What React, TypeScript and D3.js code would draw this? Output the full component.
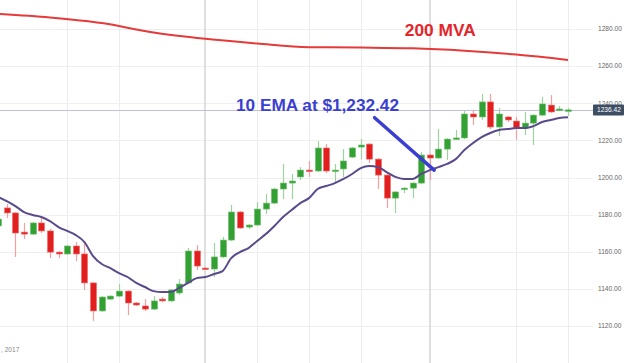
import React, { useRef, useEffect } from "react";
import * as d3 from "d3";

// daily candles (index 0 is clipped at the left edge)
const opens = [1173.9, 1183.6, 1180.9, 1170.6, 1169.5, 1175.5, 1171.2, 1159.8, 1158.8, 1163.1, 1158.8, 1143.2, 1128.1, 1134.5, 1136.1, 1138.8, 1132.4, 1130.8, 1129.1, 1134.5, 1133.5, 1137.8, 1143.2, 1160.4, 1151.2, 1150.7, 1157.2, 1166.3, 1181.4, 1173.3, 1174.4, 1183.0, 1186.2, 1193.8, 1197.0, 1200.3, 1204.0, 1203.5, 1215.9, 1203.5, 1204.6, 1211.0, 1216.4, 1218.0, 1209.9, 1201.3, 1188.9, 1193.8, 1194.3, 1197.0, 1212.1, 1210.5, 1215.3, 1220.7, 1221.3, 1234.2, 1232.6, 1240.7, 1227.2, 1232.6, 1230.4, 1226.6, 1229.3, 1233.6, 1239.0, 1236.3, 1236.4];
const highs = [1179.2, 1185.7, 1181.4, 1175.5, 1176.0, 1178.2, 1172.2, 1160.3, 1163.6, 1165.2, 1165.2, 1143.7, 1136.1, 1136.6, 1142.6, 1139.3, 1132.9, 1134.5, 1136.1, 1135.6, 1139.9, 1145.3, 1162.0, 1163.6, 1151.7, 1164.7, 1167.9, 1185.2, 1181.9, 1174.9, 1186.8, 1191.1, 1194.3, 1207.3, 1201.9, 1205.6, 1208.9, 1219.6, 1218.0, 1207.3, 1215.3, 1216.4, 1220.7, 1218.5, 1210.4, 1201.8, 1192.7, 1194.8, 1197.5, 1213.7, 1212.6, 1226.1, 1221.2, 1225.6, 1235.8, 1236.3, 1245.0, 1245.0, 1237.4, 1233.1, 1232.6, 1235.3, 1234.1, 1243.3, 1244.4, 1238.5, 1237.4];
const lows = [1172.8, 1178.2, 1157.2, 1166.9, 1169.0, 1170.1, 1156.6, 1156.6, 1158.3, 1155.0, 1139.4, 1122.7, 1127.6, 1134.0, 1135.6, 1125.9, 1130.8, 1128.1, 1128.6, 1133.0, 1133.0, 1136.7, 1142.7, 1150.2, 1150.2, 1146.4, 1156.7, 1165.8, 1172.3, 1172.2, 1173.9, 1180.3, 1185.7, 1188.4, 1188.4, 1198.6, 1200.3, 1203.0, 1202.4, 1197.6, 1200.3, 1210.5, 1209.9, 1207.8, 1193.8, 1183.5, 1180.9, 1191.6, 1188.9, 1196.5, 1198.6, 1210.0, 1209.4, 1220.2, 1220.7, 1228.3, 1231.0, 1226.1, 1222.3, 1229.9, 1220.2, 1222.9, 1217.5, 1233.1, 1234.8, 1235.8, 1233.1];
const closes = [1177.6, 1180.9, 1170.1, 1169.5, 1175.5, 1171.2, 1159.8, 1158.8, 1163.1, 1158.8, 1143.2, 1128.1, 1135.6, 1136.1, 1138.8, 1132.4, 1131.3, 1129.1, 1133.5, 1133.5, 1139.4, 1142.6, 1160.4, 1152.3, 1150.7, 1157.2, 1166.3, 1181.4, 1172.8, 1174.4, 1183.0, 1186.2, 1193.8, 1197.0, 1198.1, 1204.0, 1203.5, 1215.9, 1203.5, 1204.0, 1208.9, 1215.9, 1217.5, 1209.9, 1201.3, 1188.9, 1192.2, 1194.3, 1197.0, 1212.1, 1210.5, 1215.3, 1220.7, 1221.3, 1234.2, 1232.6, 1240.7, 1227.2, 1234.2, 1231.0, 1226.6, 1229.3, 1233.6, 1239.6, 1235.3, 1236.9, 1236.42];

// 10 EMA, one value per candle
const ema10 = [1189.5, 1187.3, 1184.6, 1181.4, 1179.8, 1178.7, 1176.5, 1173.3, 1171.2, 1169.0, 1165.2, 1157.7, 1153.4, 1151.2, 1148.5, 1146.4, 1143.2, 1141.0, 1138.8, 1138.3, 1138.3, 1140.5, 1143.2, 1145.8, 1146.4, 1148.0, 1149.6, 1156.6, 1159.8, 1162.0, 1165.8, 1169.5, 1173.9, 1178.7, 1182.5, 1186.2, 1188.9, 1193.8, 1195.4, 1197.0, 1199.2, 1201.9, 1205.1, 1206.2, 1205.6, 1202.9, 1200.3, 1199.2, 1199.2, 1201.9, 1204.0, 1205.6, 1207.3, 1209.9, 1214.8, 1218.6, 1221.8, 1224.0, 1225.6, 1226.1, 1226.6, 1226.6, 1227.7, 1229.9, 1231.0, 1232.0, 1232.42];

// 200 MVA, read every 6th candle
const mvaIdx = [0, 6, 12, 18, 24, 30, 36, 42, 48, 54, 60, 66];
const mva200 = [1288.1, 1286.2, 1283.2, 1278.1, 1274.7, 1272.2, 1270.2, 1270.0, 1269.6, 1268.3, 1266.2, 1263.3];

const yTicks = [1120, 1140, 1160, 1180, 1200, 1220, 1240, 1260, 1280];
const weekGrid = [8, 14, 30, 36, 42, 60, 66];
const monthGrid = [24, 50];

const W = 624;
const H = 363;

const CandleChart = () => {
  const ref = useRef<SVGSVGElement>(null);

  useEffect(() => {
    const svg = d3.select(ref.current);
    svg.selectAll("*").remove();

    const plotRight = 593;
    const x = d3.scaleLinear().domain([0, 66]).range([-1.9, 568]);
    const y = d3.scaleLinear().domain([1120, 1280]).range([326, 29]);
    const fmt = d3.format(".2f");

    svg.append("rect").attr("width", W).attr("height", H).attr("fill", "#fff");

    // grid
    svg
      .append("g")
      .selectAll("line")
      .data(yTicks)
      .enter()
      .append("line")
      .attr("x1", 0)
      .attr("x2", plotRight)
      .attr("y1", (d) => Math.round(y(d)) + 0.5)
      .attr("y2", (d) => Math.round(y(d)) + 0.5)
      .attr("stroke", "#efefef");

    svg
      .append("g")
      .selectAll("line")
      .data(weekGrid)
      .enter()
      .append("line")
      .attr("x1", (d) => Math.round(x(d)) + 0.5)
      .attr("x2", (d) => Math.round(x(d)) + 0.5)
      .attr("y1", 0)
      .attr("y2", H)
      .attr("stroke", "#ececec");

    svg
      .append("g")
      .selectAll("line")
      .data(monthGrid)
      .enter()
      .append("line")
      .attr("x1", (d) => Math.round(x(d)))
      .attr("x2", (d) => Math.round(x(d)))
      .attr("y1", 0)
      .attr("y2", H)
      .attr("stroke", "#d4d4d4")
      .attr("stroke-width", 1.5);

    // last price line
    const last = closes[closes.length - 1];
    svg
      .append("line")
      .attr("x1", 0)
      .attr("x2", plotRight)
      .attr("y1", Math.round(y(last)) + 0.5)
      .attr("y2", Math.round(y(last)) + 0.5)
      .attr("stroke", "#c2bfd8");

    // 200 MVA
    const mvaLine = d3
      .line<number>()
      .x((d, i) => x(mvaIdx[i]))
      .y((d) => y(d))
      .curve(d3.curveMonotoneX);
    svg
      .append("path")
      .attr("d", mvaLine(mva200))
      .attr("fill", "none")
      .attr("stroke", "#e53a3a")
      .attr("stroke-width", 2);

    // candles
    const idx = d3.range(opens.length);
    const green = "#33a033";
    const red = "#e21f1f";
    const g = svg.append("g");
    g.selectAll("line.wick")
      .data(idx)
      .enter()
      .append("line")
      .attr("class", "wick")
      .attr("x1", (i) => Math.round(x(i)) + 0.5)
      .attr("x2", (i) => Math.round(x(i)) + 0.5)
      .attr("y1", (i) => y(highs[i]))
      .attr("y2", (i) => y(lows[i]))
      .attr("stroke", (i) => (closes[i] >= opens[i] ? "#9fd09f" : "#f2a0a0"))
      .attr("stroke-width", 1.2);

    g.selectAll("rect.body")
      .data(idx)
      .enter()
      .append("rect")
      .attr("class", "body")
      .attr("x", (i) => Math.round(x(i)) - 2.5)
      .attr("width", 6)
      .attr("y", (i) => y(Math.max(opens[i], closes[i])))
      .attr("height", (i) =>
        Math.max(1.5, Math.abs(y(opens[i]) - y(closes[i])))
      )
      .attr("fill", (i) => (closes[i] >= opens[i] ? green : red))
      .attr("stroke", (i) => (closes[i] >= opens[i] ? "#6cbf6c" : "#f06a6a"))
      .attr("stroke-width", 0.6);

    // 10 EMA
    const emaLine = d3
      .line<number>()
      .x((d, i) => x(i))
      .y((d) => y(d))
      .curve(d3.curveMonotoneX);
    svg
      .append("path")
      .attr("d", emaLine(ema10))
      .attr("fill", "none")
      .attr("stroke", "#5a4a8c")
      .attr("stroke-width", 2);

    // right price axis
    svg
      .append("g")
      .selectAll("text")
      .data(yTicks)
      .enter()
      .append("text")
      .attr("x", 598)
      .attr("y", (d) => y(d) + 2.3)
      .attr("font-family", "Liberation Sans, Arial, sans-serif")
      .attr("font-size", 6.6)
      .attr("fill", "#666")
      .text((d) => fmt(d));

    svg
      .append("rect")
      .attr("x", plotRight)
      .attr("y", y(last) - 5.5)
      .attr("width", W - plotRight)
      .attr("height", 11)
      .attr("rx", 1)
      .attr("fill", "#3d4e63");
    svg
      .append("text")
      .attr("x", 597)
      .attr("y", y(last) + 2.4)
      .attr("font-family", "Liberation Sans, Arial, sans-serif")
      .attr("font-size", 6.6)
      .attr("fill", "#fff")
      .text(fmt(last));

    // date label at the bottom-left edge
    svg
      .append("text")
      .attr("x", 1)
      .attr("y", 352)
      .attr("font-family", "Liberation Sans, Arial, sans-serif")
      .attr("font-size", 6.6)
      .attr("fill", "#888")
      .text(", 2017");

    // annotations
    svg
      .append("line")
      .attr("x1", x(43.6))
      .attr("y1", y(1232.2))
      .attr("x2", x(50.5))
      .attr("y2", y(1204))
      .attr("stroke", "#3a3fd2")
      .attr("stroke-width", 3.5)
      .attr("stroke-linecap", "round");

    svg
      .append("text")
      .attr("x", x(27.55))
      .attr("y", y(1235.8))
      .attr("font-family", "Liberation Sans, Arial, sans-serif")
      .attr("font-weight", "bold")
      .attr("font-size", 17)
      .attr("fill", "#3a3fd2")
      .attr("textLength", 163)
      .attr("lengthAdjust", "spacingAndGlyphs")
      .text("10 EMA at $1,232.42");

    svg
      .append("text")
      .attr("x", x(47.1))
      .attr("y", y(1276.2))
      .attr("font-family", "Liberation Sans, Arial, sans-serif")
      .attr("font-weight", "bold")
      .attr("font-size", 17)
      .attr("fill", "#e3262b")
      .attr("textLength", 71)
      .attr("lengthAdjust", "spacingAndGlyphs")
      .text("200 MVA");
  }, []);

  return (
    <svg
      ref={ref}
      width={W}
      height={H}
      style={{ position: "absolute", left: 0, top: 0, display: "block" }}
    />
  );
};

export default function App() {
  return <CandleChart />;
}
